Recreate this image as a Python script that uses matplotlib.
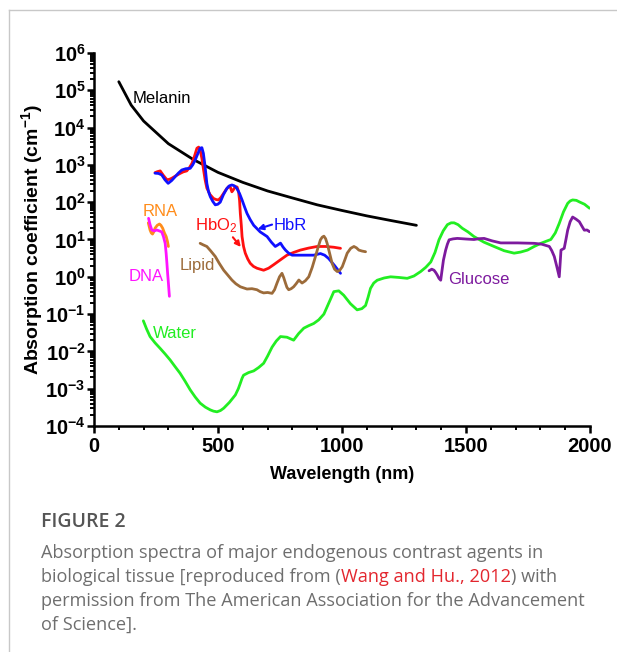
import matplotlib
matplotlib.use("Agg")
import matplotlib.pyplot as plt
from matplotlib.lines import Line2D
from matplotlib.ticker import FixedLocator, LogLocator, NullFormatter

# values (wavelength in nm, absorption in cm^-1)
melanin_x = [100, 150, 200, 300, 400, 500, 600, 700, 800, 900, 1000, 1100, 1200, 1300]
melanin_y = [1.7e5, 4.0e4, 1.5e4, 3.7e3, 1.4e3, 630, 340, 200, 130, 85, 60, 43, 32, 24]

hbr_x = [246, 260, 273, 286, 299, 313, 327, 340, 354, 370, 388, 398, 408, 420, 428, 435,
         441, 448, 455, 462, 469, 479, 489, 499, 509, 522, 536, 546, 556, 566, 576, 587,
         597, 607, 617, 630, 644, 670, 698, 715, 731, 742, 752, 762, 772, 785, 799, 815,
         832, 860, 886, 900, 913, 930, 946, 970, 994]
hbr_y = [600, 590, 540, 400, 320, 380, 480, 600, 730, 790, 810, 1000, 1350, 2100, 2800,
         2900, 2050, 900, 320, 190, 140, 105, 85, 88, 100, 160, 235, 275, 290, 275, 235,
         170, 115, 75, 50, 34, 24, 16, 12, 8.5, 6.5, 7.2, 8.0, 6.3, 5.2, 4.3, 3.8, 3.8,
         3.8, 3.8, 3.8, 4.0, 4.2, 3.8, 3.1, 2.0, 1.24]

hbo2_x = [246, 256, 267, 280, 294, 304, 314, 330, 347, 360, 374, 385, 395, 405, 415, 422,
          428, 435, 442, 448, 455, 468, 482, 492, 502, 512, 523, 533, 543, 550, 556, 563,
          570, 577, 583, 587, 590, 594, 597, 603, 610, 620, 630, 643, 657, 670, 684, 704,
          724, 750, 778, 805, 832, 866, 900, 935, 967, 994]
hbo2_y = [620, 660, 690, 520, 400, 410, 440, 510, 590, 650, 690, 850, 1100, 1700, 2800,
          3000, 2500, 1500, 720, 400, 240, 160, 126, 118, 115, 135, 174, 220, 263, 250, 190,
          220, 263, 255, 190, 110, 50, 24, 12, 6.5, 4.3, 3.0, 2.3, 1.9, 1.7, 1.6, 1.5, 1.7,
          2.1, 2.8, 3.8, 4.5, 5.2, 5.9, 6.5, 6.5, 6.2, 5.8]

lipid_x = [428, 440, 455, 470, 489, 505, 523, 540, 556, 572, 590, 617, 637, 657, 670, 684,
           700, 718, 728, 738, 748, 758, 765, 772, 778, 785, 795, 805, 815, 826, 832, 839,
           852, 866, 880, 893, 903, 913, 920, 927, 934, 940, 950, 960, 970, 981, 991, 1001,
           1011, 1021, 1035, 1048, 1058, 1068, 1081, 1095]
lipid_y = [7.9, 7.2, 6.5, 5.0, 3.5, 2.3, 1.5, 1.1, 0.82, 0.65, 0.54, 0.47, 0.48, 0.45, 0.40,
           0.37, 0.38, 0.36, 0.45, 0.68, 1.0, 1.24, 0.95, 0.68, 0.52, 0.45, 0.48, 0.54, 0.65,
           0.82, 0.75, 0.68, 0.78, 1.0, 1.8, 3.5, 6.0, 9.8, 11.5, 12.3, 10.5, 7.9, 4.3, 2.3,
           1.6, 1.38, 1.5, 1.86, 2.8, 4.3, 5.8, 6.5, 6.0, 5.2, 4.9, 4.7]

rna_x = [219, 222, 226, 231, 236, 241, 246, 255, 264, 270, 277, 284, 291, 296, 300]
rna_y = [28, 23, 18, 15, 14, 16, 20, 24, 26, 24, 20, 15, 12, 9, 6.5]

dna_x = [220, 226, 233, 243, 253, 263, 273, 280, 287, 291, 294, 297, 300, 302, 304]
dna_y = [37, 25, 18, 17, 18, 17, 16, 12, 7.9, 4.2, 2.3, 1.2, 0.68, 0.45, 0.30]

water_x = [199, 212, 226, 246, 267, 287, 307, 327, 347, 367, 388, 408, 428, 449, 469, 482,
           496, 510, 523, 546, 570, 582, 590, 597, 603, 623, 644, 664, 684, 700, 718, 735,
           752, 778, 805, 825, 846, 866, 886, 906, 927, 947, 967, 987, 1007, 1034, 1061,
           1080, 1095, 1105, 1115, 1128, 1142, 1170, 1196, 1230, 1263, 1290, 1317, 1338,
           1358, 1375, 1391, 1408, 1425, 1440, 1452, 1468, 1485, 1508, 1532, 1572, 1613,
           1654, 1694, 1720, 1748, 1775, 1802, 1822, 1842, 1860, 1876, 1893, 1910, 1920,
           1930, 1945, 1957, 1978, 1998]
water_y = [0.066, 0.040, 0.025, 0.017, 0.012, 0.0085, 0.0059, 0.0039, 0.0026, 0.0016,
           0.00093, 0.00060, 0.00041, 0.00032, 0.00027, 0.00025, 0.00024, 0.00026, 0.00030,
           0.00043, 0.00068, 0.00100, 0.0014, 0.0019, 0.0023, 0.0027, 0.0030, 0.0037,
           0.0048, 0.0075, 0.013, 0.019, 0.025, 0.024, 0.020, 0.030, 0.042, 0.049, 0.056,
           0.070, 0.10, 0.20, 0.40, 0.42, 0.32, 0.19, 0.13, 0.14, 0.17, 0.28, 0.49, 0.68,
           0.81, 0.93, 1.0, 0.96, 0.91, 1.05, 1.38, 1.8, 2.5, 4.5, 9.8, 17, 25, 28, 28, 25,
           20, 16, 12, 8.5, 6.5, 5.0, 4.3, 4.6, 5.2, 6.5, 7.9, 8.9, 10, 15, 27, 55, 93,
           108, 115, 112, 102, 88, 69]

glucose_x = [1351, 1362, 1371, 1378, 1384, 1391, 1398, 1404, 1409, 1418, 1425, 1432, 1448,
             1465, 1500, 1532, 1552, 1573, 1605, 1640, 1675, 1708, 1740, 1775, 1805, 1836,
             1846, 1856, 1866, 1876, 1880, 1883, 1896, 1903, 1910, 1920, 1930, 1944, 1957,
             1967, 1977, 1988, 1998]
glucose_y = [1.45, 1.6, 1.5, 1.3, 1.12, 0.91, 0.81, 1.6, 2.8, 5.2, 7.5, 9.8, 10.4, 10.7,
             10.3, 10, 10.5, 10.7, 9.2, 8.1, 8.1, 8.1, 8.0, 7.9, 7.5, 6.5, 5.0, 3.5, 1.9,
             1.0, 2.5, 5.2, 5.8, 10, 17.8, 30, 40, 35, 30, 23, 17.8, 18, 16.2]

plt.rcParams['font.family'] = ['Liberation Sans', 'DejaVu Sans']
plt.rcParams['mathtext.fontset'] = 'custom'
plt.rcParams['mathtext.rm'] = 'Liberation Sans'
plt.rcParams['mathtext.bf'] = 'Liberation Sans:bold'
plt.rcParams['mathtext.it'] = 'Liberation Sans:italic'

fig = plt.figure(figsize=(6.17, 6.52), dpi=100)
ax = fig.add_axes([94 / 617, 1 - 426 / 652, 496 / 617, 373 / 652])

lw = 2.0
style = dict(lw=lw, solid_joinstyle='round', solid_capstyle='round')
ax.plot(melanin_x, melanin_y, color='black', **style)
ax.plot(hbo2_x, hbo2_y, color='#ff1010', **style)
ax.plot(hbr_x, hbr_y, color='#1010ff', **style)
ax.plot(lipid_x, lipid_y, color='#9c6b3a', **style)
ax.plot(rna_x, rna_y, color='#ff8c1a', **style)
ax.plot(dna_x, dna_y, color='#ff14ff', **style)
ax.plot(water_x, water_y, color='#22ee22', **style)
ax.plot(glucose_x, glucose_y, color='#7d1a9e', **style)

ax.set_yscale('log')
ax.set_xlim(0, 2000)
ax.set_ylim(1e-4, 1e6)

# labels on the curves
fs = 12
ax.text(154, 10**4.79, 'Melanin', color='black', fontsize=fs, va='center')
ax.text(198, 10**1.76, 'RNA', color='#ff8c1a', fontsize=fs, va='center')
ax.text(138, 10**0.0, 'DNA', color='#ff14ff', fontsize=fs, va='center')
ax.text(406, 10**1.36, r'HbO$_\mathregular{2}$', color='#ff1010', fontsize=fs, va='center')
ax.text(723, 10**1.38, 'HbR', color='#1010ff', fontsize=fs, va='center')
ax.text(347, 10**0.31, 'Lipid', color='#9c6b3a', fontsize=fs, va='center')
ax.text(238, 10**-1.51, 'Water', color='#22ee22', fontsize=fs, va='center')
ax.text(1426, 10**-0.06, 'Glucose', color='#7d1a9e', fontsize=fs, va='center')

ax.annotate('', xy=(592, 10**0.80), xytext=(560, 10**1.06),
            arrowprops=dict(arrowstyle='-|>', color='#ff1010', lw=1.5,
                            mutation_scale=8, shrinkA=0, shrinkB=0))
ax.annotate('', xy=(660, 10**1.28), xytext=(718, 10**1.40),
            arrowprops=dict(arrowstyle='-|>', color='#1010ff', lw=1.5,
                            mutation_scale=8, shrinkA=0, shrinkB=0))

# axes styling
for side in ['top', 'right']:
    ax.spines[side].set_visible(False)
for side in ['left', 'bottom']:
    ax.spines[side].set_linewidth(1.8)

ax.xaxis.set_major_locator(FixedLocator([0, 500, 1000, 1500, 2000]))
ax.xaxis.set_minor_locator(FixedLocator(list(range(0, 2001, 100))))
ax.yaxis.set_minor_locator(LogLocator(base=10, subs=range(2, 10), numticks=20))
ax.yaxis.set_minor_formatter(NullFormatter())
ax.set_yticks([10.0**k for k in range(-4, 7)])
ax.set_yticklabels([r'$\mathbf{10^{%d}}$' % k for k in range(-4, 7)])
ax.set_xticklabels(['0', '500', '1000', '1500', '2000'], fontweight='bold')

ax.tick_params(which='major', direction='out', length=5, width=1.8, pad=3)
ax.tick_params(axis='x', which='major', labelsize=14.5)
ax.tick_params(axis='y', which='major', labelsize=14.5, pad=1)
ax.tick_params(which='minor', direction='out', length=3, width=1.4)

ax.set_xlabel('Wavelength (nm)', fontsize=13, fontweight='bold', labelpad=7)
ax.set_ylabel(r'Absorption coefficient (cm$^\mathbf{-1}$)', fontsize=14,
              fontweight='bold', labelpad=0)

# frame lines of the page
grey = '#c8c8c8'
fig.add_artist(Line2D([9 / 617, 9 / 617], [0, 1 - 10 / 652], transform=fig.transFigure,
                      color=grey, lw=1))
fig.add_artist(Line2D([9 / 617, 1], [1 - 10 / 652, 1 - 10 / 652], transform=fig.transFigure,
                      color=grey, lw=1))

# caption
cap_font = ['Open Sans', 'DejaVu Sans']
cap_fs = 13.1
fig.text(41 / 617, 1 - 522 / 652, 'FIGURE 2', fontsize=14, color='#555555',
         fontweight='semibold', family=cap_font, va='center')
grey_txt = '#6e6e6e'
fig.text(41 / 617, 1 - 553 / 652, 'Absorption spectra of major endogenous contrast agents in',
         fontsize=cap_fs, color=grey_txt, family=cap_font, va='center')
t1 = fig.text(41 / 617, 1 - 577 / 652, 'biological tissue [reproduced from (',
              fontsize=cap_fs, color=grey_txt, family=cap_font, va='center')
t2 = ax.annotate('Wang and Hu., 2012', xy=(1, 0), xycoords=t1, va='bottom',
                 fontsize=cap_fs, color='#e3262e', family=cap_font)
ax.annotate(') with', xy=(1, 0), xycoords=t2, va='bottom',
            fontsize=cap_fs, color=grey_txt, family=cap_font)
fig.text(41 / 617, 1 - 601 / 652, 'permission from The American Association for the Advancement',
         fontsize=cap_fs, color=grey_txt, family=cap_font, va='center')
fig.text(41 / 617, 1 - 625 / 652, 'of Science].',
         fontsize=cap_fs, color=grey_txt, family=cap_font, va='center')

fig.savefig('out.png', dpi=100)
